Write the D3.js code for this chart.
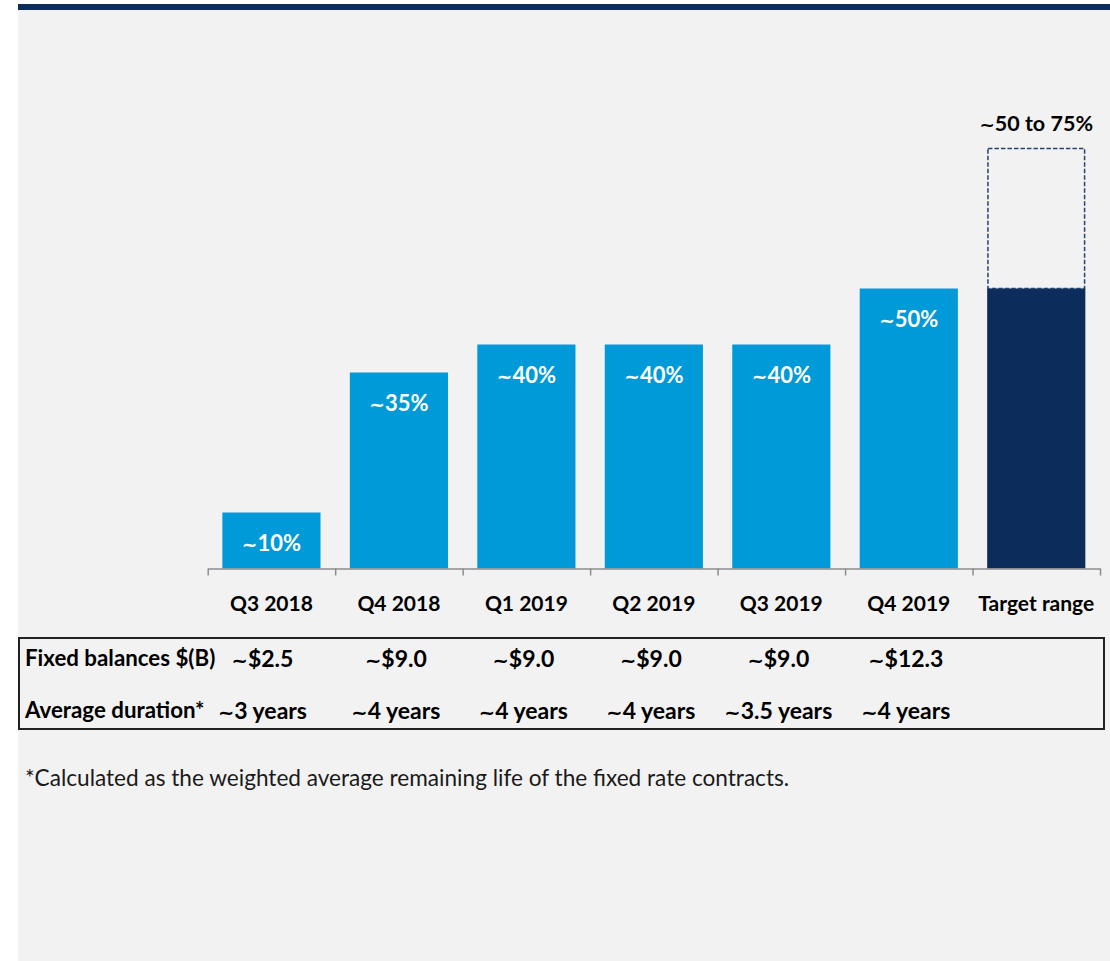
<!DOCTYPE html>
<html>
<head>
<meta charset="utf-8">
<script src="https://cdn.jsdelivr.net/npm/d3@7"></script>
<style>
  html, body { margin: 0; padding: 0; background: #ffffff; }
  svg { display: block; font-family: Lato, "Open Sans", sans-serif; }
</style>
</head>
<body>
<div id="chart"></div>
<script>
const categories = ["Q3 2018", "Q4 2018", "Q1 2019", "Q2 2019", "Q3 2019", "Q4 2019", "Target range"];
const shares = [10, 35, 40, 40, 40, 50];
const shareLabels = ["~10%", "~35%", "~40%", "~40%", "~40%", "~50%"];
const targetLow = 50;
const targetHigh = 75;
const targetLabel = "~50 to 75%";
const fixedBalances = ["~$2.5", "~$9.0", "~$9.0", "~$9.0", "~$9.0", "~$12.3"];
const durations = ["~3 years", "~4 years", "~4 years", "~4 years", "~3.5 years", "~4 years"];
const rowLabels = ["Fixed balances $(B)", "Average duration*"];
const footnote = "*Calculated as the weighted average remaining life of the fixed rate contracts.";

const width = 1110;
const height = 961;
const blue = "#009ad9";
const navy = "#0c2c5b";

const svg = d3.select("#chart")
  .append("svg")
  .attr("width", width)
  .attr("height", height);

// writes a label, giving the leading "~" a rounder glyph like the original
function tildeText(sel) {
  sel.each(function(d) {
    const t = d3.select(this);
    const s = typeof d === "string" ? d : d.label;
    if (s.startsWith("~")) {
      t.append("tspan").attr("font-family", "DejaVu Sans").attr("font-size", "0.85em").text("~");
      t.append("tspan").text(s.slice(1));
    } else {
      t.text(s);
    }
  });
}

// background panel and top rule
svg.append("rect").attr("x", 18).attr("y", 4).attr("width", width - 18).attr("height", height - 4).attr("fill", "#f2f2f2");
svg.append("rect").attr("x", 18).attr("y", 4).attr("width", width - 18).attr("height", 6).attr("fill", navy);

const x = d3.scaleBand()
  .domain(categories)
  .range([207.7, 1100])
  .paddingInner(0.23)
  .paddingOuter(0.115);

const y = d3.scaleLinear()
  .domain([0, 100])
  .range([568.5, 8.5]);

const mainG = svg.append("g");

// history bars
const hist = categories.slice(0, shares.length).map((c, i) => ({ c, v: shares[i], label: shareLabels[i] }));

mainG.selectAll("rect.bar")
  .data(hist)
  .join("rect")
  .attr("class", "bar")
  .attr("x", d => x(d.c))
  .attr("y", d => y(d.v))
  .attr("width", x.bandwidth())
  .attr("height", d => y(0) - y(d.v))
  .attr("fill", blue);

mainG.selectAll("text.val")
  .data(hist)
  .join("text")
  .attr("class", "val")
  .attr("x", d => x(d.c) + x.bandwidth() / 2)
  .attr("y", d => y(d.v) + 38)
  .attr("text-anchor", "middle")
  .attr("fill", "#ffffff")
  .attr("font-weight", "bold")
  .attr("font-size", 22)
  .call(tildeText);

// target bar
const tc = categories[categories.length - 1];
mainG.append("rect")
  .attr("x", x(tc))
  .attr("y", y(targetLow))
  .attr("width", x.bandwidth())
  .attr("height", y(0) - y(targetLow))
  .attr("fill", navy);

mainG.append("rect")
  .attr("x", x(tc) + 0.75)
  .attr("y", y(targetHigh))
  .attr("width", x.bandwidth() - 1.5)
  .attr("height", y(targetLow) - y(targetHigh))
  .attr("fill", "none")
  .attr("stroke", "#24446f")
  .attr("stroke-width", 1.5)
  .attr("stroke-dasharray", "4.5,2");

mainG.append("text")
  .datum(targetLabel)
  .attr("x", x(tc) + x.bandwidth() / 2)
  .attr("y", y(targetHigh) - 18)
  .attr("text-anchor", "middle")
  .attr("fill", "#000000")
  .attr("font-weight", "bold")
  .attr("font-size", 21.5)
  .call(tildeText);

// axis with ticks at category boundaries
const edges = d3.scaleLinear().domain([0, categories.length]).range(x.range());
const xAxisGroup = svg.append("g")
  .attr("transform", `translate(0,${y(0)})`)
  .call(d3.axisBottom(edges).tickValues(d3.range(categories.length + 1)).tickFormat("").tickSize(7).tickSizeOuter(0));
xAxisGroup.select(".domain").attr("stroke", "#8c8c8c").attr("stroke-width", 1.5);
xAxisGroup.selectAll(".tick line").attr("stroke", "#8c8c8c").attr("stroke-width", 1.5);

svg.append("g").selectAll("text")
  .data(categories)
  .join("text")
  .attr("x", d => x(d) + x.bandwidth() / 2)
  .attr("y", 611)
  .attr("text-anchor", "middle")
  .attr("font-weight", "bold")
  .attr("font-size", 21)
  .attr("fill", "#000000")
  .text(d => d);

// table
svg.append("rect")
  .attr("x", 19).attr("y", 638)
  .attr("width", 1085).attr("height", 91)
  .attr("fill", "none").attr("stroke", "#222222").attr("stroke-width", 2);

const rowY = [667, 719];
svg.append("g").selectAll("text")
  .data(rowLabels)
  .join("text")
  .attr("x", 25)
  .attr("y", (d, i) => rowY[i] - 1)
  .attr("font-weight", "bold")
  .attr("font-size", 22.3)
  .attr("fill", "#000000")
  .text(d => d);

const cells = [fixedBalances, durations].flatMap((row, r) =>
  row.map((t, i) => ({ label: t, r, i, c: categories[i] })));

// first column sits a little left, tight against the row labels
svg.append("g").selectAll("text")
  .data(cells)
  .join("text")
  .attr("x", d => x(d.c) + x.bandwidth() / 2 - (d.i === 0 ? 9 : 3))
  .attr("y", d => rowY[d.r])
  .attr("text-anchor", "middle")
  .attr("font-weight", "bold")
  .attr("font-size", 23)
  .attr("fill", "#000000")
  .call(tildeText);

svg.append("text")
  .attr("x", 25)
  .attr("y", 786)
  .attr("font-size", 22.6)
  .attr("fill", "#1a1a1a")
  .text(footnote);
</script>
</body>
</html>
